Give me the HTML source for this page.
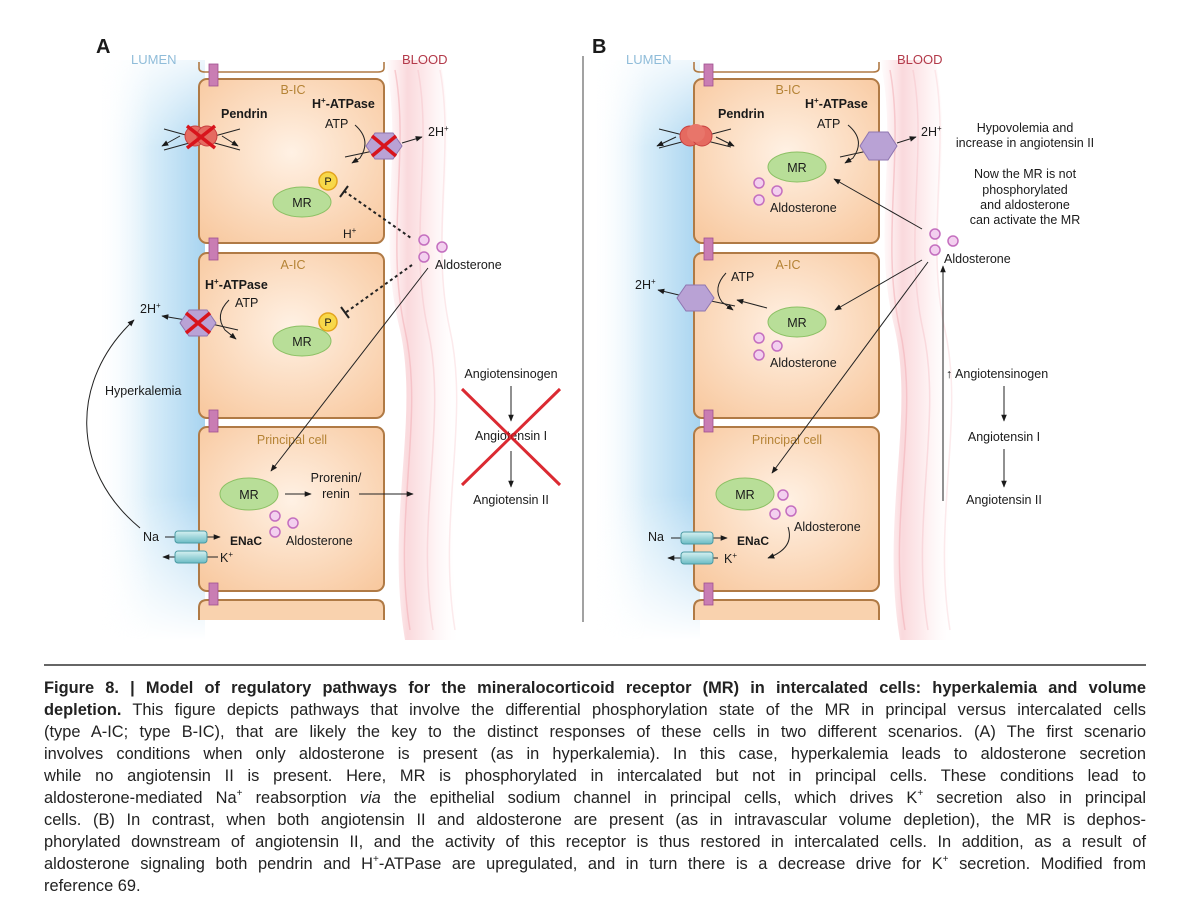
<!DOCTYPE html>
<html><head><meta charset="utf-8"><style>
html,body{margin:0;padding:0;background:#fff;width:1200px;height:919px;overflow:hidden}
svg{position:absolute;left:0;top:0}
text{font-family:"Liberation Sans",Arial,sans-serif;fill:#1a1a1a}
.cap{position:absolute;left:44px;width:1102px;top:677px;font-family:"Liberation Sans",Arial,sans-serif;font-size:16.4px;color:#222;line-height:22px}
.cap div{height:22px;text-align:justify;text-align-last:justify;white-space:nowrap;overflow:visible}
.cap div.l{text-align-last:left}
.cap sup{font-size:10px;line-height:0;vertical-align:0;position:relative;top:-7px}
</style></head><body>
<svg width="1200" height="919" viewBox="0 0 1200 919">
<defs>
<linearGradient id="lumh" x1="0" x2="1"><stop offset="0" stop-color="#fff" stop-opacity="0"/><stop offset="0.5" stop-color="#d8edf9"/><stop offset="1" stop-color="#a8d4f0"/></linearGradient>
<linearGradient id="lumv" x1="0" y1="0" x2="0" y2="1"><stop offset="0" stop-color="#fff" stop-opacity="0.2"/><stop offset="0.15" stop-color="#fff" stop-opacity="1"/><stop offset="0.75" stop-color="#fff" stop-opacity="1"/><stop offset="1" stop-color="#fff" stop-opacity="0"/></linearGradient>
<mask id="lm" maskUnits="userSpaceOnUse" x="90" y="60" width="120" height="580"><rect x="90" y="60" width="120" height="580" fill="url(#lumv)"/></mask>
<radialGradient id="cell" cx="0.5" cy="0.45" r="0.7"><stop offset="0" stop-color="#fff1e4"/><stop offset="1" stop-color="#f8c9a0"/></radialGradient>
<linearGradient id="blood" x1="0" x2="1"><stop offset="0" stop-color="#fbd7da" stop-opacity="0"/><stop offset="0.3" stop-color="#f9d0d4"/><stop offset="0.6" stop-color="#fdeaec"/><stop offset="1" stop-color="#fff" stop-opacity="0"/></linearGradient>
<linearGradient id="cyl" x1="0" y1="0" x2="0" y2="1"><stop offset="0" stop-color="#d6f1f2"/><stop offset="1" stop-color="#6cbcc4"/></linearGradient>
<marker id="ar" viewBox="0 0 10 10" refX="9" refY="5" markerWidth="7" markerHeight="7" orient="auto-start-reverse"><path d="M0,1 L10,5 L0,9 Z" fill="#1a1a1a"/></marker>
<g id="cells">
<rect x="95" y="60" width="110" height="580" fill="url(#lumh)" mask="url(#lm)"/>
<path d="M385,60 C405,150 375,230 400,330 C420,420 385,520 405,640 L460,640 C440,520 470,420 450,330 C430,230 460,150 440,60 Z" fill="url(#blood)" opacity="0.8"/>
<path d="M395,70 C410,150 385,240 405,330 C425,420 392,520 410,630" stroke="#f3b3b9" stroke-width="1.5" fill="none" opacity="0.6"/>
<path d="M418,70 C433,150 408,240 428,330 C448,420 415,520 433,630" stroke="#f6c4c9" stroke-width="1.5" fill="none" opacity="0.5"/>
<path d="M440,70 C455,150 430,240 450,330 C470,420 437,520 455,630" stroke="#f9d6d9" stroke-width="1.5" fill="none" opacity="0.5"/>
<path d="M199,62 L199,68 Q199,72 205,72 L378,72 Q384,72 384,68 L384,62" fill="none" stroke="#b07a45" stroke-width="1.6"/>
<rect x="199" y="79" width="185" height="164" rx="8" fill="url(#cell)" stroke="#b07a45" stroke-width="2"/>
<rect x="199" y="253" width="185" height="165" rx="8" fill="url(#cell)" stroke="#b07a45" stroke-width="2"/>
<rect x="199" y="427" width="185" height="164" rx="8" fill="url(#cell)" stroke="#b07a45" stroke-width="2"/>
<path d="M199,620 L199,608 Q199,600 207,600 L376,600 Q384,600 384,608 L384,620" fill="#f9d2ae" stroke="#b07a45" stroke-width="2"/>
<g fill="#c97db3" stroke="#a05090" stroke-width="0.8">
<rect x="209" y="64" width="9" height="22"/><rect x="209" y="238" width="9" height="22"/><rect x="209" y="410" width="9" height="22"/><rect x="209" y="583" width="9" height="22"/></g>
<g font-size="12.5" fill="#b58335" text-anchor="middle">
<text x="293" y="94" style="fill:#b58335">B-IC</text><text x="293" y="269" style="fill:#b58335">A-IC</text><text x="292" y="444" style="fill:#b58335">Principal cell</text></g>
<text x="131" y="64" font-size="13" style="fill:#8fbcd9">LUMEN</text>
<text x="402" y="64" font-size="13" style="fill:#b33a4a">BLOOD</text>
</g>
</defs>

<!-- Panel A -->
<text x="96" y="53" font-size="20" font-weight="bold">A</text>
<use href="#cells"/>
<line x1="164" y1="129" x2="240" y2="150" stroke="#222"/><line x1="164" y1="150" x2="240" y2="129" stroke="#222"/>
<line x1="180" y1="136" x2="162" y2="146" stroke="#222" marker-end="url(#ar)"/><line x1="222" y1="136" x2="238" y2="146" stroke="#222" marker-end="url(#ar)"/>
<circle cx="195" cy="136" r="10" fill="#e56a60" stroke="#c84040"/><circle cx="207" cy="136" r="10" fill="#e56a60" stroke="#c84040"/>
<path d="M187,126 L215,148 M215,126 L187,148" stroke="#d8141c" stroke-width="3.5"/>
<text x="221" y="118" font-size="12.5" font-weight="bold">Pendrin</text>
<text x="312" y="108" font-size="12.5" font-weight="bold">H<tspan font-size="8" dy="-5">+</tspan><tspan dy="5">-ATPase</tspan></text>
<text x="325" y="128" font-size="12.5">ATP</text>
<path d="M355,125 Q372,140 360,158 L352,163" fill="none" stroke="#222" marker-end="url(#ar)"/>
<line x1="345" y1="157" x2="378" y2="150" stroke="#222"/>
<polygon points="375,133 393,133 402,146 393,159 375,159 366,146" fill="#b9a2d5" stroke="#8e75b0"/>
<path d="M372,136 L396,156 M396,136 L372,156" stroke="#d8141c" stroke-width="3.5"/>
<line x1="402" y1="143" x2="422" y2="137" stroke="#222" marker-end="url(#ar)"/>
<text x="428" y="136" font-size="12.5">2H<tspan font-size="8" dy="-5">+</tspan></text>
<ellipse cx="302" cy="202" rx="29" ry="15" fill="#b8de98" stroke="#8cc064"/><text x="302" y="207" font-size="12.5" text-anchor="middle">MR</text>
<circle cx="328" cy="181" r="9" fill="#f7d84a" stroke="#e3a51e" stroke-width="1.5"/><text x="328" y="185" font-size="11" text-anchor="middle">P</text>
<line x1="344" y1="191" x2="411" y2="238" stroke="#222" stroke-width="2" stroke-dasharray="3,3"/><line x1="340" y1="197" x2="348" y2="186" stroke="#222" stroke-width="2"/>
<text x="343" y="238" font-size="12">H<tspan font-size="8" dy="-5">+</tspan></text>
<g fill="#f3d0ef" stroke="#c46fbf" stroke-width="1.5"><circle cx="424" cy="240" r="5"/><circle cx="442" cy="247" r="5"/><circle cx="424" cy="257" r="5"/></g>
<text x="435" y="269" font-size="12.5">Aldosterone</text>
<text x="205" y="289" font-size="12.5" font-weight="bold">H<tspan font-size="8" dy="-5">+</tspan><tspan dy="5">-ATPase</tspan></text>
<text x="235" y="307" font-size="12.5">ATP</text>
<path d="M229,300 Q214,315 225,330 L236,339" fill="none" stroke="#222" marker-end="url(#ar)"/>
<line x1="185" y1="318" x2="238" y2="330" stroke="#222"/>
<line x1="186" y1="320" x2="162" y2="316" stroke="#222" marker-end="url(#ar)"/>
<polygon points="189,310 207,310 216,323 207,336 189,336 180,323" fill="#b9a2d5" stroke="#8e75b0"/>
<path d="M186,313 L210,333 M210,313 L186,333" stroke="#d8141c" stroke-width="3.5"/>
<text x="140" y="313" font-size="12.5">2H<tspan font-size="8" dy="-5">+</tspan></text>
<ellipse cx="302" cy="341" rx="29" ry="15" fill="#b8de98" stroke="#8cc064"/><text x="302" y="346" font-size="12.5" text-anchor="middle">MR</text>
<circle cx="328" cy="322" r="9" fill="#f7d84a" stroke="#e3a51e" stroke-width="1.5"/><text x="328" y="326" font-size="11" text-anchor="middle">P</text>
<line x1="412" y1="265" x2="345" y2="313" stroke="#222" stroke-width="2" stroke-dasharray="3,3"/><line x1="341" y1="307" x2="349" y2="318" stroke="#222" stroke-width="2"/>
<line x1="428" y1="268" x2="271" y2="471" stroke="#222" marker-end="url(#ar)"/>
<text x="105" y="395" font-size="12.5">Hyperkalemia</text>
<path d="M140,528 C70,470 70,380 134,320" fill="none" stroke="#222" marker-end="url(#ar)"/>
<ellipse cx="249" cy="494" rx="29" ry="16" fill="#b8de98" stroke="#8cc064"/><text x="249" y="499" font-size="12.5" text-anchor="middle">MR</text>
<line x1="285" y1="494" x2="311" y2="494" stroke="#222" marker-end="url(#ar)"/>
<text x="336" y="482" font-size="12.5" text-anchor="middle">Prorenin/</text><text x="336" y="498" font-size="12.5" text-anchor="middle">renin</text>
<line x1="359" y1="494" x2="413" y2="494" stroke="#222" marker-end="url(#ar)"/>
<g fill="#f3d0ef" stroke="#c46fbf" stroke-width="1.5"><circle cx="275" cy="516" r="5"/><circle cx="293" cy="523" r="5"/><circle cx="275" cy="532" r="5"/></g>
<text x="286" y="545" font-size="12.5">Aldosterone</text>
<text x="143" y="541" font-size="12.5">Na</text>
<line x1="165" y1="537" x2="220" y2="537" stroke="#222" marker-end="url(#ar)"/>
<rect x="175" y="531" width="32" height="12" rx="3" fill="url(#cyl)" stroke="#4a9aa4"/>
<text x="230" y="545" font-size="12" font-weight="bold">ENaC</text>
<line x1="218" y1="557" x2="163" y2="557" stroke="#222" marker-end="url(#ar)"/>
<rect x="175" y="551" width="32" height="12" rx="3" fill="url(#cyl)" stroke="#4a9aa4"/>
<text x="220" y="562" font-size="12.5">K<tspan font-size="8" dy="-5">+</tspan></text>
<text x="511" y="378" font-size="12.5" text-anchor="middle">Angiotensinogen</text>
<line x1="511" y1="386" x2="511" y2="421" stroke="#222" marker-end="url(#ar)"/>
<text x="511" y="440" font-size="12.5" text-anchor="middle" fill="#333">Angiotensin I</text>
<line x1="511" y1="451" x2="511" y2="487" stroke="#222" marker-end="url(#ar)"/>
<text x="511" y="504" font-size="12.5" text-anchor="middle">Angiotensin II</text>
<path d="M462,389 L560,485 M560,389 L462,485" stroke="#d8141c" stroke-width="3" opacity="0.9"/>

<line x1="583" y1="56" x2="583" y2="622" stroke="#444" stroke-width="1"/>

<!-- Panel B -->
<text x="592" y="53" font-size="20" font-weight="bold">B</text>
<g transform="translate(495,0)"><use href="#cells"/></g>
<line x1="659" y1="129" x2="731" y2="147" stroke="#222"/><line x1="659" y1="148" x2="731" y2="129" stroke="#222"/>
<line x1="676" y1="137" x2="657" y2="146" stroke="#222" marker-end="url(#ar)"/><line x1="716" y1="137" x2="734" y2="146" stroke="#222" marker-end="url(#ar)"/>
<circle cx="690" cy="136" r="10" fill="#e56a60" stroke="#c84040"/><circle cx="702" cy="136" r="10" fill="#e56a60" stroke="#c84040"/><circle cx="696" cy="133" r="9" fill="#e8756a"/>
<text x="718" y="118" font-size="12.5" font-weight="bold">Pendrin</text>
<text x="805" y="108" font-size="12.5" font-weight="bold">H<tspan font-size="8" dy="-5">+</tspan><tspan dy="5">-ATPase</tspan></text>
<text x="817" y="128" font-size="12.5">ATP</text>
<path d="M848,125 Q866,140 853,158 L845,163" fill="none" stroke="#222" marker-end="url(#ar)"/>
<line x1="840" y1="157" x2="872" y2="150" stroke="#222"/>
<polygon points="869,132 888,132 897,146 888,160 869,160 860,146" fill="#b9a2d5" stroke="#8e75b0"/>
<line x1="897" y1="143" x2="916" y2="137" stroke="#222" marker-end="url(#ar)"/>
<text x="921" y="136" font-size="12.5">2H<tspan font-size="8" dy="-5">+</tspan></text>
<ellipse cx="797" cy="167" rx="29" ry="15" fill="#b8de98" stroke="#8cc064"/><text x="797" y="172" font-size="12.5" text-anchor="middle">MR</text>
<g fill="#f3d0ef" stroke="#c46fbf" stroke-width="1.5"><circle cx="759" cy="183" r="5"/><circle cx="777" cy="191" r="5"/><circle cx="759" cy="200" r="5"/></g>
<text x="770" y="212" font-size="12.5">Aldosterone</text>
<line x1="922" y1="229" x2="834" y2="179" stroke="#222" marker-end="url(#ar)"/>
<g font-size="12.5" text-anchor="middle"><text x="1025" y="132">Hypovolemia and</text><text x="1025" y="147">increase in angiotensin II</text>
<text x="1025" y="178">Now the MR is not</text><text x="1025" y="194">phosphorylated</text><text x="1025" y="209">and aldosterone</text><text x="1025" y="224">can activate the MR</text></g>
<g fill="#f3d0ef" stroke="#c46fbf" stroke-width="1.5"><circle cx="935" cy="234" r="5"/><circle cx="953" cy="241" r="5"/><circle cx="935" cy="250" r="5"/></g>
<text x="944" y="263" font-size="12.5">Aldosterone</text>
<text x="731" y="281" font-size="12.5">ATP</text>
<path d="M726,273 Q712,288 722,302 L733,310" fill="none" stroke="#222" marker-end="url(#ar)"/>
<line x1="682" y1="295" x2="735" y2="306" stroke="#222"/>
<line x1="683" y1="296" x2="658" y2="290" stroke="#222" marker-end="url(#ar)"/>
<polygon points="686,285 705,285 714,298 705,311 686,311 677,298" fill="#b9a2d5" stroke="#8e75b0"/>
<text x="635" y="289" font-size="12.5">2H<tspan font-size="8" dy="-5">+</tspan></text>
<line x1="767" y1="308" x2="737" y2="300" stroke="#222" marker-end="url(#ar)"/>
<ellipse cx="797" cy="322" rx="29" ry="15" fill="#b8de98" stroke="#8cc064"/><text x="797" y="327" font-size="12.5" text-anchor="middle">MR</text>
<line x1="922" y1="260" x2="835" y2="310" stroke="#222" marker-end="url(#ar)"/>
<g fill="#f3d0ef" stroke="#c46fbf" stroke-width="1.5"><circle cx="759" cy="338" r="5"/><circle cx="777" cy="346" r="5"/><circle cx="759" cy="355" r="5"/></g>
<text x="770" y="367" font-size="12.5">Aldosterone</text>
<line x1="928" y1="262" x2="772" y2="473" stroke="#222" marker-end="url(#ar)"/>
<ellipse cx="745" cy="494" rx="29" ry="16" fill="#b8de98" stroke="#8cc064"/><text x="745" y="499" font-size="12.5" text-anchor="middle">MR</text>
<g fill="#f3d0ef" stroke="#c46fbf" stroke-width="1.5"><circle cx="783" cy="495" r="5"/><circle cx="791" cy="511" r="5"/><circle cx="775" cy="514" r="5"/></g>
<text x="794" y="531" font-size="12.5">Aldosterone</text>
<path d="M788,527 Q795,548 768,558" fill="none" stroke="#222" marker-end="url(#ar)"/>
<text x="648" y="541" font-size="12.5">Na</text>
<line x1="671" y1="538" x2="727" y2="538" stroke="#222" marker-end="url(#ar)"/>
<rect x="681" y="532" width="32" height="12" rx="3" fill="url(#cyl)" stroke="#4a9aa4"/>
<text x="737" y="545" font-size="12" font-weight="bold">ENaC</text>
<line x1="718" y1="558" x2="668" y2="558" stroke="#222" marker-end="url(#ar)"/>
<rect x="681" y="552" width="32" height="12" rx="3" fill="url(#cyl)" stroke="#4a9aa4"/>
<text x="724" y="563" font-size="12.5">K<tspan font-size="8" dy="-5">+</tspan></text>
<line x1="943" y1="501" x2="943" y2="266" stroke="#222" marker-end="url(#ar)"/>
<text x="946" y="378" font-size="12.5">↑ Angiotensinogen</text>
<line x1="1004" y1="386" x2="1004" y2="421" stroke="#222" marker-end="url(#ar)"/>
<text x="1004" y="441" font-size="12.5" text-anchor="middle">Angiotensin I</text>
<line x1="1004" y1="449" x2="1004" y2="487" stroke="#222" marker-end="url(#ar)"/>
<text x="1004" y="504" font-size="12.5" text-anchor="middle">Angiotensin II</text>

<line x1="44" y1="665" x2="1146" y2="665" stroke="#333" stroke-width="1.5"/>
</svg>
<div class="cap">
<div><b>Figure 8. | Model of regulatory pathways for the mineralocorticoid receptor (MR) in intercalated cells: hyperkalemia and volume</b></div>
<div><b>depletion.</b> This figure depicts pathways that involve the differential phosphorylation state of the MR in principal versus intercalated cells</div>
<div>(type A-IC; type B-IC), that are likely the key to the distinct responses of these cells in two different scenarios. (A) The first scenario</div>
<div>involves conditions when only aldosterone is present (as in hyperkalemia). In this case, hyperkalemia leads to aldosterone secretion</div>
<div>while no angiotensin II is present. Here, MR is phosphorylated in intercalated but not in principal cells. These conditions lead to</div>
<div>aldosterone-mediated Na<sup>+</sup> reabsorption <i>via</i> the epithelial sodium channel in principal cells, which drives K<sup>+</sup> secretion also in principal</div>
<div>cells. (B) In contrast, when both angiotensin II and aldosterone are present (as in intravascular volume depletion), the MR is dephos-</div>
<div>phorylated downstream of angiotensin II, and the activity of this receptor is thus restored in intercalated cells. In addition, as a result of</div>
<div>aldosterone signaling both pendrin and H<sup>+</sup>-ATPase are upregulated, and in turn there is a decrease drive for K<sup>+</sup> secretion. Modified from</div>
<div class="l">reference 69.</div>
</div>
</body></html>
